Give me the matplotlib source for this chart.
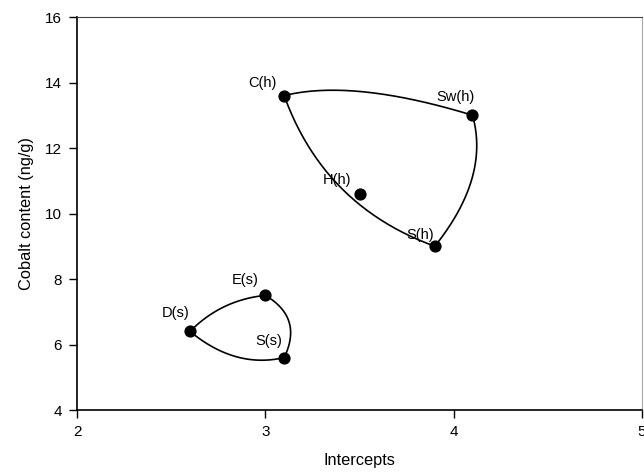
import numpy as np
import matplotlib
matplotlib.use("Agg")
import matplotlib.pyplot as plt

# Data
labels = ["C(h)", "Sw(h)", "H(h)", "S(h)", "E(s)", "D(s)", "S(s)"]
x_vals = [3.1, 4.1, 3.5, 3.9, 3.0, 2.6, 3.1]
y_vals = [13.6, 13.0, 10.6, 9.0, 7.5, 6.4, 5.6]
label_offsets = [(-22, 13), (-17, 18), (-22, 14), (-15, 11), (-20, 15), (-14, 18), (-15, 17)]

# enclosing curves: vertex order (indices), bulge per edge (pixels, outward),
# and where along each edge the control point sits
hull_h = [0, 1, 3]
bulge_h = [24, 34, 50]
bpos_h = [0.35, 0.4, 0.5]
hull_s = [5, 4, 6]
bulge_s = [15, 30, 24]
bpos_s = [0.5, 0.5, 0.45]

x_ticks = [2, 3, 4, 5]
y_ticks = [4, 6, 8, 10, 12, 14, 16]

plt.rcParams['font.family'] = ['Liberation Sans', 'DejaVu Sans']

fig = plt.figure(figsize=(6.44, 4.73), dpi=100)
ax = fig.add_axes([77/644, 1 - 410/473, (642 - 77)/644, (410 - 17)/473])
ax.set_xlim(2, 5)
ax.set_ylim(4, 16)
ax.set_xticks(x_ticks)
ax.set_yticks(y_ticks)
ax.tick_params(direction='out', length=6, width=1, labelsize=11, pad=5)
ax.set_xlabel("Intercepts", fontsize=11.8, labelpad=10)
ax.set_ylabel("Cobalt content (ng/g)", fontsize=11.8, labelpad=8)
ax.spines['top'].set_color('#444444')
ax.spines['right'].set_color('#aaaaaa')
for s in ['left', 'bottom']:
    ax.spines[s].set_linewidth(1.2)

fig.canvas.draw()
T = ax.transData
Ti = T.inverted()


def draw_hull(order, bulges, bpos):
    pts = T.transform(np.column_stack([[x_vals[i] for i in order], [y_vals[i] for i in order]]))
    n = len(pts)
    cen = pts.mean(axis=0)
    path = []
    t = np.linspace(0, 1, 80)[:, None]
    for k in range(n):
        p0 = pts[k]
        p2 = pts[(k + 1) % n]
        mid = (p0 + p2) / 2
        d = p2 - p0
        nrm = np.array([-d[1], d[0]]) / np.hypot(*d)
        if np.dot(nrm, mid - cen) < 0:
            nrm = -nrm
        c = p0 + d * bpos[k] + nrm * bulges[k]
        seg = (1 - t) ** 2 * p0 + 2 * (1 - t) * t * c + t ** 2 * p2
        path.append(seg)
    path = np.vstack(path)
    dp = Ti.transform(path)
    ax.plot(dp[:, 0], dp[:, 1], color='black', lw=1.2, zorder=2)


draw_hull(hull_h, bulge_h, bpos_h)
draw_hull(hull_s, bulge_s, bpos_s)

ax.plot(x_vals, y_vals, 'o', color='black', markersize=7.8, zorder=3, linestyle='none')
for lab, x, y, off in zip(labels, x_vals, y_vals, label_offsets):
    ax.annotate(lab, (x, y), xytext=off, textcoords='offset pixels',
                ha='center', va='center', fontsize=10.5, zorder=4)

fig.savefig("out.png", dpi=100)
